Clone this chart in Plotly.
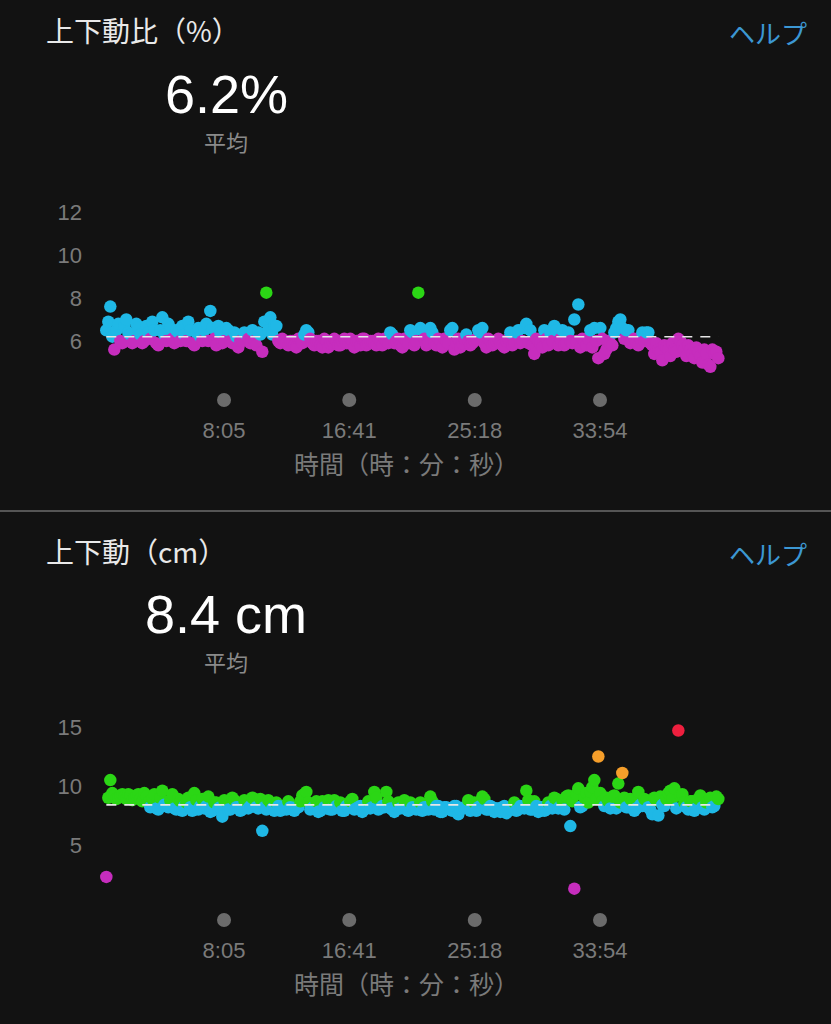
import plotly.graph_objects as go

W, H = 831, 1024
BG = "#121212"

# ---------------- data ----------------
tick_seconds = [485, 1001, 1518, 2034]
tick_labels = ["8:05", "16:41", "25:18", "33:54"]
SAMPLE_SEC = 16.48  # interval between the plotted samples of each list

ratio_title = "上下動比（%）"
ratio_avg = 6.2
ratio_avg_text = "6.2%"
ratio_yticks = [6, 8, 10, 12]
# samples on the main grid
ratio_values = [
    6.5, 7.6, 5.6, 6.8, 5.9, 7.0, 6.3, 6.0, 6.6, 5.9,
    6.7, 6.1, 6.5, 5.8, 7.1, 6.0, 6.6, 5.9, 6.4, 6.7,
    6.0, 6.5, 5.8, 6.6, 6.0, 6.8, 7.4, 6.1, 6.7, 5.9,
    6.6, 6.0, 6.4, 5.7, 6.0, 6.3, 5.9, 6.0, 6.4, 5.5,
    8.25, 7.1, 6.7, 6.0, 6.1, 5.9, 6.0, 5.8, 6.1, 5.9,
    6.5, 6.1, 5.8, 6.0, 5.7, 6.0, 5.9, 6.1, 5.8, 6.0,
    5.9, 6.1, 5.7, 6.0, 6.1, 5.8, 6.0, 5.9, 6.1, 5.8,
    6.0, 6.4, 5.9, 6.1, 5.7, 6.0, 6.5, 5.8, 8.25, 6.5,
    5.8, 6.6, 5.9, 6.1, 5.7, 6.0, 6.5, 5.6, 6.1, 5.9,
    6.3, 5.8, 6.0, 6.5, 6.6, 5.7, 6.0, 5.9, 6.1, 5.8,
    6.0, 6.4, 5.9, 6.5, 6.0, 6.8, 6.5, 5.4, 6.0, 5.7,
    6.1, 6.4, 6.7, 5.8, 6.5, 5.9, 6.0, 7.0, 7.7, 6.1,
    5.8, 6.5, 6.6, 5.2, 6.1, 5.6, 5.9, 6.4, 6.9, 6.6,
    6.5, 5.9, 6.1, 5.8, 6.4, 6.4, 5.9, 5.4, 5.6, 5.1,
    5.7, 5.3, 5.6, 6.1, 5.8, 5.3, 5.6, 5.2, 5.5, 5.0,
    5.4, 4.8, 5.4, 5.2,
]
# samples half-way between the main grid
ratio_values_mid = [
    6.9, 6.2, 6.5, 6.0, 6.7, 6.4, 5.9, 6.8, 6.3, 6.0,
    6.4, 6.9, 5.9, 6.5, 6.3, 6.8, 6.1, 6.5, 6.0, 6.3,
    6.9, 5.9, 6.4, 6.2, 6.5, 6.0, 6.6, 5.8, 6.4, 6.0,
    6.5, 5.9, 6.2, 6.0, 6.4, 6.1, 6.5, 5.8, 6.3, 6.9,
    6.5, 6.3, 6.7, 5.9, 6.0, 5.8, 6.0, 5.7, 6.1, 6.3,
    6.4, 5.9, 6.0, 5.8, 6.1, 5.7, 6.0, 6.0, 5.8, 6.1,
    5.9, 6.0, 6.0, 5.8, 6.1, 5.9, 6.0, 5.8, 6.0, 6.1,
    5.9, 6.3, 6.0, 5.8, 6.1, 5.9, 6.4, 6.0, 6.6, 6.1,
    5.9, 6.4, 5.8, 6.0, 6.1, 5.9, 6.6, 5.9, 5.7, 6.1,
    6.0, 5.9, 6.1, 6.4, 5.9, 6.1, 5.8, 6.0, 5.9, 5.7,
    6.1, 5.8, 6.4, 5.9, 6.6, 5.9, 5.8, 6.1, 5.9, 6.5,
    5.8, 6.0, 6.5, 6.1, 5.8, 6.4, 5.9, 6.0, 5.7, 6.0,
    6.1, 5.7, 6.0, 6.6, 5.4, 6.0, 5.8, 6.6, 7.0, 6.1,
    6.5, 6.0, 5.9, 6.1, 6.0, 6.4, 5.8, 5.9, 5.5, 5.8,
    5.6, 5.9, 5.5, 6.0, 5.6, 5.8, 5.4, 5.7, 5.3, 5.6,
    4.9, 5.6, 5.5,
]

osc_title = "上下動（cm）"
osc_avg = 8.4
osc_avg_text = "8.4 cm"
osc_yticks = [5, 10, 15]
osc_values = [
    2.3, 10.5, 9.2, 9.0, 9.3, 8.9, 9.2, 9.0, 9.3, 8.7,
    9.1, 8.2, 9.3, 8.0, 9.6, 8.3, 8.8, 8.1, 8.9, 7.9,
    8.6, 8.2, 9.4, 8.0, 8.9, 8.3, 7.8, 8.6, 8.1, 7.4,
    8.7, 8.0, 8.8, 8.2, 8.0, 8.7, 8.3, 8.9, 8.1, 6.2,
    8.0, 8.6, 7.9, 8.3, 8.1, 8.0, 8.2, 7.9, 8.2, 9.2,
    9.5, 8.0, 8.3, 7.8, 8.7, 8.1, 8.0, 8.8, 8.2, 7.9,
    8.3, 8.7, 8.0, 8.2, 7.8, 8.3, 8.1, 9.5, 8.0, 8.3,
    9.5, 8.1, 7.8, 8.6, 8.2, 8.0, 8.6, 8.1, 8.3, 7.9,
    8.2, 9.1, 8.0, 8.3, 7.8, 8.2, 8.0, 8.3, 7.6, 8.1,
    8.2, 7.9, 8.6, 8.2, 9.1, 8.0, 8.3, 7.8, 8.1, 8.2,
    7.7, 8.1, 8.6, 8.0, 8.2, 9.6, 8.0, 8.7, 7.8, 8.2,
    8.0, 8.3, 9.0, 8.1, 8.8, 9.1, 6.6, 1.3, 9.8, 8.3,
    9.4, 9.5, 10.5, 12.5, 8.7, 9.0, 8.1, 9.2, 10.2, 11.1,
    8.2, 8.9, 7.9, 9.5, 8.3, 8.8, 8.0, 9.0, 7.5, 8.4,
    8.9, 9.6, 9.8, 14.7, 9.3, 8.2, 8.7, 7.9, 8.9, 8.2,
    8.6, 9.0, 8.3, 8.9,
]
osc_values_mid = [
    9.0, 9.4, 8.9, 9.2, 9.1, 9.3, 8.8, 9.2, 8.9, 9.4,
    8.6, 8.9, 8.1, 9.0, 8.4, 8.2, 9.3, 8.0, 8.7, 8.3,
    9.0, 7.9, 8.8, 8.3, 8.1, 9.1, 7.9, 8.6, 8.2, 8.8,
    8.0, 9.0, 8.2, 7.9, 8.8, 8.1, 9.0, 8.2, 8.9, 8.2,
    8.8, 8.1, 8.6, 7.9, 8.3, 8.7, 8.0, 8.2, 8.7, 9.3,
    8.6, 8.1, 8.7, 7.9, 8.2, 8.8, 8.0, 8.3, 8.6, 7.9,
    8.2, 8.9, 8.1, 8.3, 8.0, 8.7, 8.2, 9.0, 8.1, 8.2,
    8.7, 8.0, 8.3, 8.1, 8.8, 7.9, 8.2, 8.0, 8.6, 8.2,
    8.0, 8.7, 8.3, 7.8, 8.2, 8.1, 7.9, 8.3, 8.0, 8.2,
    8.8, 8.1, 7.9, 8.3, 8.9, 8.0, 8.2, 8.1, 7.8, 8.3,
    8.0, 8.2, 7.9, 8.3, 8.1, 8.8, 8.0, 8.3, 8.2, 7.9,
    8.6, 8.1, 8.9, 8.3, 8.0, 9.2, 8.7, 9.3, 8.2, 9.0,
    8.6, 9.9, 8.9, 9.4, 8.3, 8.7, 9.1, 8.1, 8.6, 9.0,
    8.2, 8.8, 8.1, 8.4, 8.9, 8.2, 7.6, 8.8, 9.1, 8.3,
    9.4, 8.9, 8.1, 9.2, 8.6, 8.0, 8.7, 8.1, 9.2, 8.0,
    8.7, 8.2, 9.1,
]

# zone colours (Garmin style)
MAGENTA, BLUE, GREEN, ORANGE, RED = "#c62dbd", "#1fb8e6", "#2bd615", "#f59e2a", "#ee1f3e"
ratio_zone_edges = [6.2, 7.9]
ratio_zone_colors = [MAGENTA, BLUE, GREEN]
osc_zone_edges = [5.0, 8.5, 10.8, 13.5]
osc_zone_colors = [MAGENTA, BLUE, GREEN, ORANGE, RED]


def zone_color(v, edges, colors):
    for e, c in zip(edges, colors):
        if v < e:
            return c
    return colors[-1]


def merge(main, mid):
    pts = [(i * SAMPLE_SEC, v) for i, v in enumerate(main)]
    pts += [((i + 0.5) * SAMPLE_SEC, v) for i, v in enumerate(mid)]
    pts.sort(key=lambda p: p[0])
    return [p[0] for p in pts], [p[1] for p in pts]


ratio_t, ratio_v = merge(ratio_values, ratio_values_mid)
osc_t, osc_v = merge(osc_values, osc_values_mid)

# ---------------- layout helpers ----------------
def px_x(p):
    return p / W


def px_y(p):
    return 1 - p / H


X_DOMAIN = [px_x(95), px_x(730)]
X_RANGE = [-46.6, 2569.5]
TICK_GREY = "#7a7a7a"
NUM_FONT = "Liberation Sans, Arial, sans-serif"
JP_FONT = "Noto Sans CJK JP, sans-serif"
MARKER_SIZE = 12.5

fig = go.Figure()

for t, v, edges, colors, avg, xa, ya in [
    (ratio_t, ratio_v, ratio_zone_edges, ratio_zone_colors, ratio_avg, "x", "y"),
    (osc_t, osc_v, osc_zone_edges, osc_zone_colors, osc_avg, "x2", "y2"),
]:
    fig.add_trace(go.Scatter(
        x=t, y=v, mode="markers",
        marker=dict(size=MARKER_SIZE, color=[zone_color(val, edges, colors) for val in v],
                    line=dict(width=0)),
        xaxis=xa, yaxis=ya, hoverinfo="skip", showlegend=False,
    ))
    fig.add_trace(go.Scatter(
        x=[t[0], t[-1]], y=[avg, avg], mode="lines",
        line=dict(color="#e6e6e6", width=1.6, dash="10px,8px"),
        xaxis=xa, yaxis=ya, hoverinfo="skip", showlegend=False,
    ))

xaxis_common = dict(
    domain=X_DOMAIN, range=X_RANGE, tickvals=tick_seconds, ticktext=tick_labels,
    showgrid=False, zeroline=False, showline=False, ticks="",
    tickfont=dict(size=22, color=TICK_GREY, family=NUM_FONT), ticklabelstandoff=5,
    fixedrange=True,
)
yaxis_common = dict(
    showgrid=False, zeroline=False, showline=False, ticks="",
    tickfont=dict(size=22, color=TICK_GREY, family=NUM_FONT), ticklabelstandoff=12,
    fixedrange=True,
)

shapes = []
annotations = []
panels = [
    # (title, avg text, title y, avg y, label y, tick dot y, axis title y, x axis)
    (ratio_title, ratio_avg_text, 30, 94, 141, 400, 463, "x"),
    (osc_title, osc_avg_text, 551, 614, 661, 920, 983, "x2"),
]
for title, avg_text, ty, ay, ly, dy, aty, xr in panels:
    annotations += [
        dict(text=title, x=px_x(44), y=px_y(ty), xref="paper", yref="paper", xanchor="left", yanchor="middle",
             showarrow=False, font=dict(size=28, color="#e9e9e9", family=JP_FONT)),
        dict(text="ヘルプ", x=px_x(809), y=px_y(ty + 2), xref="paper", yref="paper", xanchor="right",
             yanchor="middle", showarrow=False, font=dict(size=26, color="#3c97d3", family=JP_FONT)),
        dict(text=avg_text, x=px_x(226), y=px_y(ay), xref="paper", yref="paper", xanchor="center",
             yanchor="middle", height=46, valign="middle", showarrow=False,
             font=dict(size=54, color="#ffffff", family=NUM_FONT)),
        dict(text="平均", x=px_x(226), y=px_y(ly), xref="paper", yref="paper", xanchor="center",
             yanchor="middle", height=26, valign="middle", showarrow=False,
             font=dict(size=22, color="#8a8a8a", family=JP_FONT)),
        dict(text="時間（時：分：秒）", x=px_x(406), y=px_y(aty), xref="paper", yref="paper", xanchor="center",
             yanchor="middle", showarrow=False, font=dict(size=25, color=TICK_GREY, family=JP_FONT)),
    ]
    for ts in tick_seconds:
        shapes.append(dict(type="circle", xref=xr, yref="paper", xsizemode="pixel", ysizemode="pixel",
                           xanchor=ts, yanchor=px_y(dy), x0=-7, x1=7, y0=-7, y1=7,
                           fillcolor="#6b6b6b", line=dict(width=0)))

# separator between the two panels
shapes.append(dict(type="line", xref="paper", yref="paper", x0=0, x1=1, y0=px_y(511), y1=px_y(511),
                   line=dict(color="#555555", width=2)))

fig.update_layout(
    width=W, height=H, margin=dict(l=0, r=0, t=0, b=0),
    paper_bgcolor=BG, plot_bgcolor=BG,
    xaxis=dict(**xaxis_common, anchor="y"),
    yaxis=dict(**yaxis_common, domain=[px_y(410), px_y(200)], range=[2.79, 12.56],
               tickvals=ratio_yticks, anchor="x"),
    xaxis2=dict(**xaxis_common, anchor="y2"),
    yaxis2=dict(**yaxis_common, domain=[px_y(930), px_y(705)], range=[-2.2, 16.86],
                tickvals=osc_yticks, anchor="x2"),
    shapes=shapes, annotations=annotations, showlegend=False,
)

fig.write_html(
    "out.html",
    config={"displayModeBar": False},
    post_script="document.body.style.margin='0';document.body.style.padding='0';"
                "document.body.style.background='#121212';",
)
